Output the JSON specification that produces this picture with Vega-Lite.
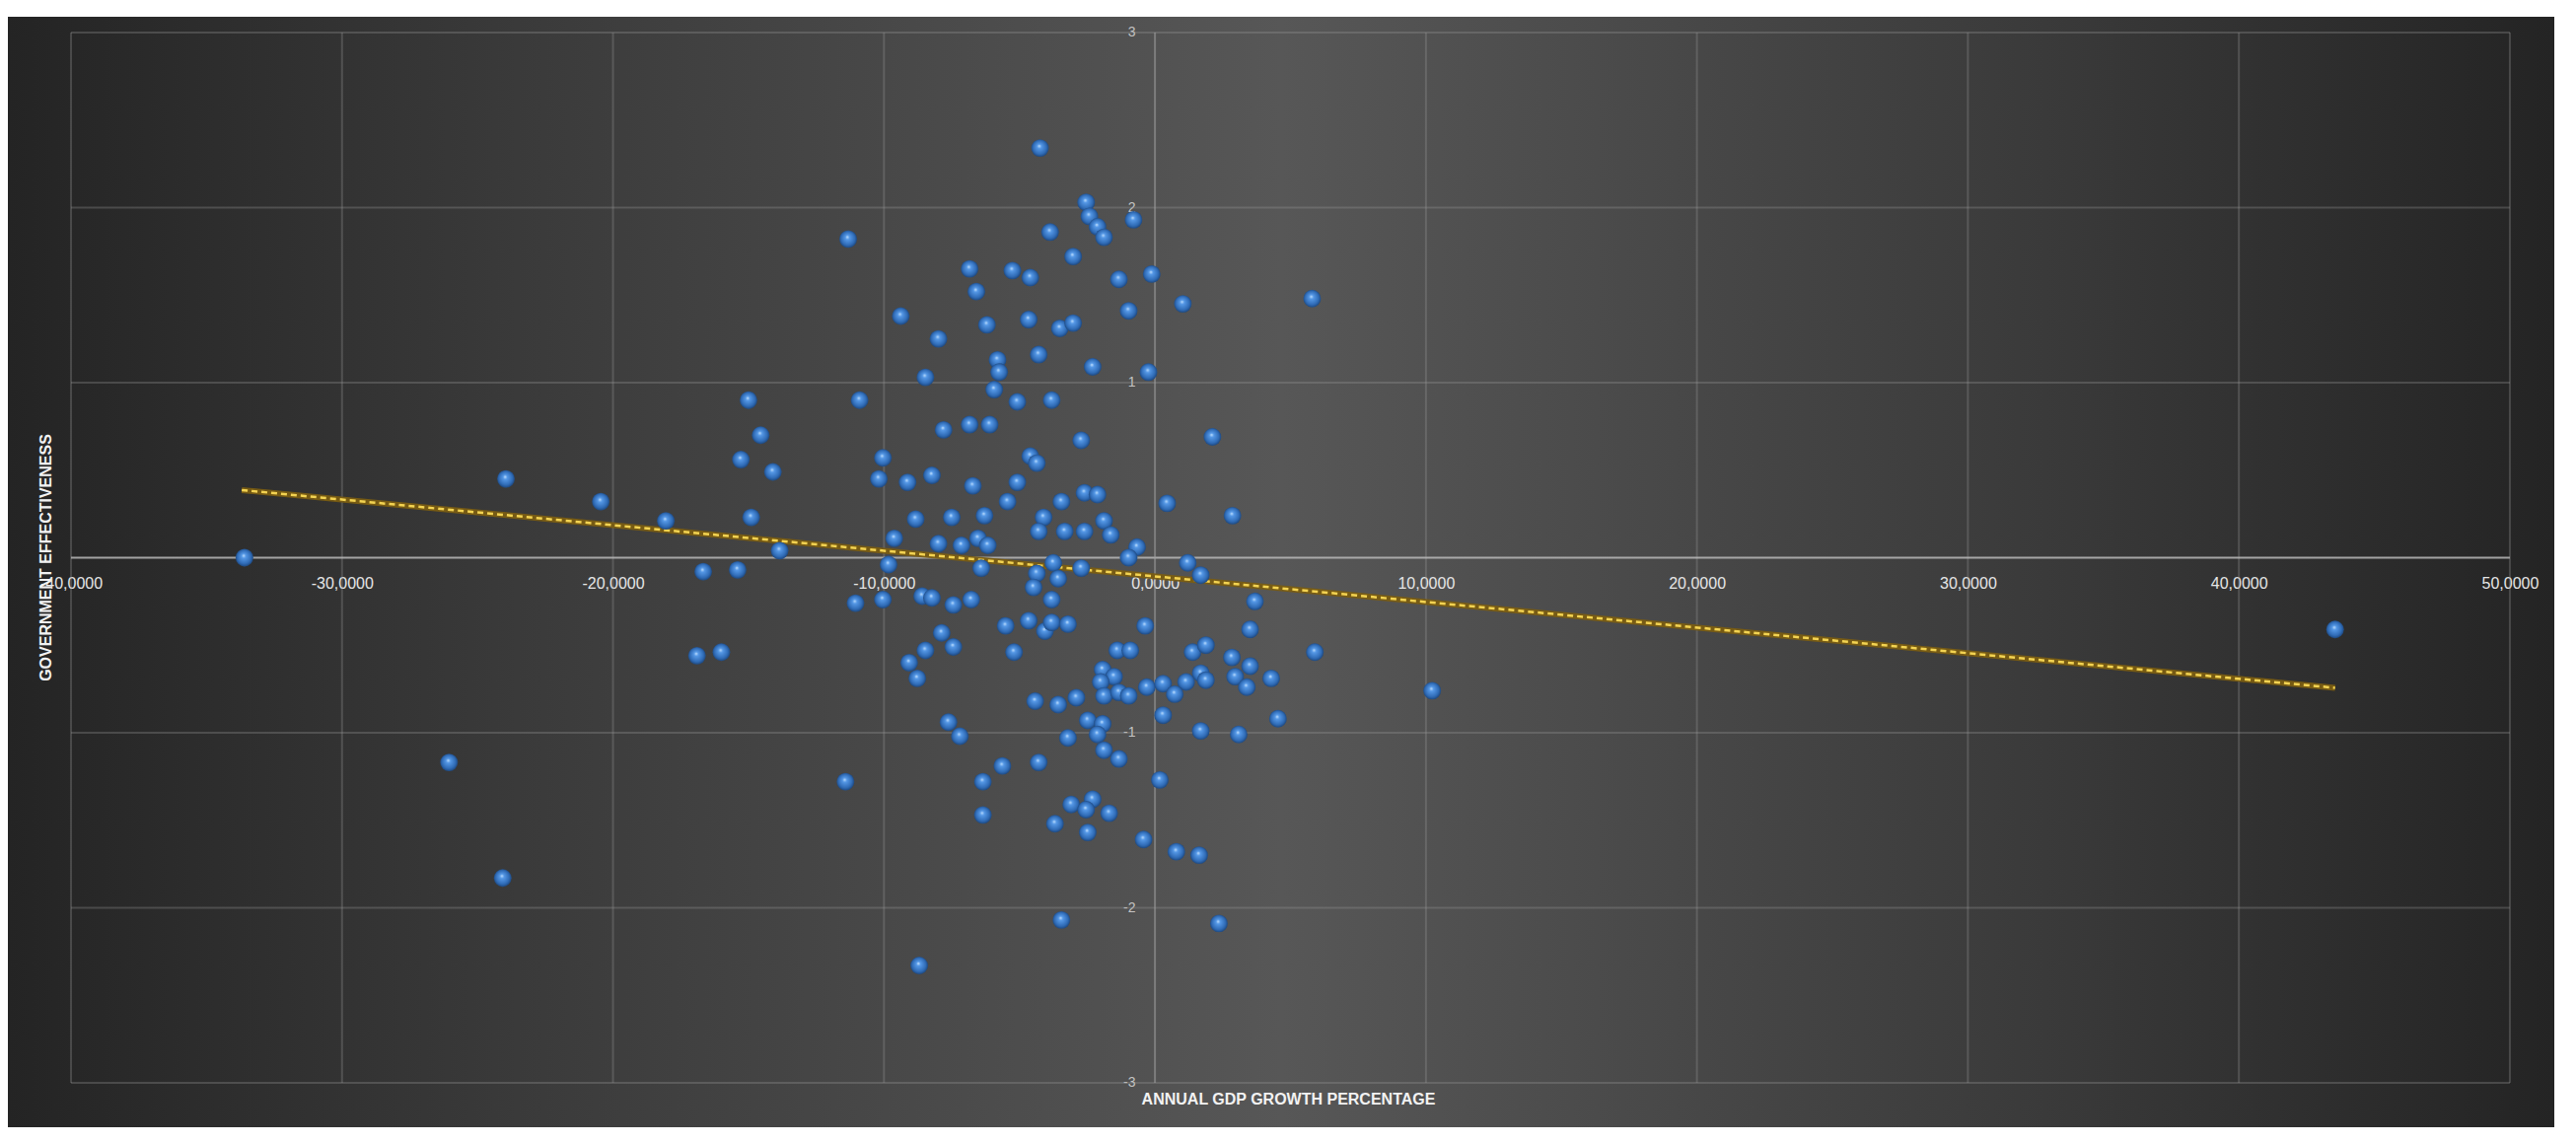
{
  "$schema": "https://vega.github.io/schema/vega-lite/v6.json",
  "autosize": "none",
  "width": 2582,
  "height": 1126,
  "padding": {"left": 8, "top": 17, "right": 22, "bottom": 16},
  "background": "white",
  "view": {
    "stroke": null,
    "fill": {
      "gradient": "linear", "x1": 0, "y1": 0, "x2": 1, "y2": 0,
      "stops": [
        {"offset": 0, "color": "#242424"},
        {"offset": 0.2, "color": "#3a3a3a"},
        {"offset": 0.5, "color": "#575757"},
        {"offset": 0.8, "color": "#3a3a3a"},
        {"offset": 1, "color": "#242424"}
      ]
    }
  },
  "datasets": {
    "pts": [
      {"g": -33.6, "e": 0.0}, {"g": -23.95, "e": 0.45}, {"g": -20.45, "e": 0.32}, {"g": -18.05, "e": 0.21},
      {"g": -26.05, "e": -1.17}, {"g": -24.07, "e": -1.83}, {"g": -16.67, "e": -0.08}, {"g": -16.9, "e": -0.56},
      {"g": -16.0, "e": -0.54}, {"g": -15.4, "e": -0.07}, {"g": -15.28, "e": 0.56}, {"g": -15.0, "e": 0.9},
      {"g": -14.9, "e": 0.23}, {"g": -14.55, "e": 0.7}, {"g": -14.1, "e": 0.49}, {"g": -13.85, "e": 0.04},
      {"g": -11.32, "e": 1.82}, {"g": -10.9, "e": 0.9}, {"g": -11.05, "e": -0.26}, {"g": -11.42, "e": -1.28},
      {"g": -8.7, "e": -2.33}, {"g": 10.23, "e": -0.76}, {"g": 43.55, "e": -0.41}, {"g": 5.8, "e": 1.48},
      {"g": 5.9, "e": -0.54}, {"g": 2.36, "e": -2.09}, {"g": -3.45, "e": -2.07}, {"g": 2.12, "e": 0.69},
      {"g": 2.86, "e": 0.24},
      {"g": -6.84, "e": 1.65}, {"g": -6.59, "e": 1.52}, {"g": -9.38, "e": 1.38}, {"g": -6.2, "e": 1.33},
      {"g": -7.99, "e": 1.25}, {"g": -5.81, "e": 1.13}, {"g": -5.75, "e": 1.06}, {"g": -5.93, "e": 0.96},
      {"g": -8.47, "e": 1.03}, {"g": -7.8, "e": 0.73}, {"g": -6.84, "e": 0.76}, {"g": -6.1, "e": 0.76},
      {"g": -10.04, "e": 0.57}, {"g": -10.19, "e": 0.45}, {"g": -9.13, "e": 0.43}, {"g": -8.23, "e": 0.47},
      {"g": -6.72, "e": 0.41}, {"g": -8.83, "e": 0.22}, {"g": -7.5, "e": 0.23}, {"g": -6.29, "e": 0.24},
      {"g": -9.62, "e": 0.11}, {"g": -7.99, "e": 0.08}, {"g": -7.14, "e": 0.07}, {"g": -6.53, "e": 0.11},
      {"g": -6.17, "e": 0.07}, {"g": -9.83, "e": -0.04}, {"g": -6.41, "e": -0.06},
      {"g": -4.24, "e": 2.34}, {"g": -2.54, "e": 2.03}, {"g": -2.42, "e": 1.95}, {"g": -2.12, "e": 1.89},
      {"g": -1.88, "e": 1.83}, {"g": -0.79, "e": 1.93}, {"g": -3.87, "e": 1.86}, {"g": -3.02, "e": 1.72},
      {"g": -5.26, "e": 1.64}, {"g": -4.6, "e": 1.6}, {"g": -1.33, "e": 1.59}, {"g": -0.12, "e": 1.62},
      {"g": -0.97, "e": 1.41}, {"g": -4.66, "e": 1.36}, {"g": -3.51, "e": 1.31}, {"g": -3.02, "e": 1.34},
      {"g": -4.29, "e": 1.16}, {"g": -2.3, "e": 1.09}, {"g": -0.24, "e": 1.06}, {"g": -5.08, "e": 0.89},
      {"g": -3.81, "e": 0.9}, {"g": -2.72, "e": 0.67}, {"g": -4.6, "e": 0.58}, {"g": -4.36, "e": 0.54},
      {"g": -5.08, "e": 0.43}, {"g": -5.44, "e": 0.32}, {"g": -3.45, "e": 0.32}, {"g": -2.6, "e": 0.37},
      {"g": -2.12, "e": 0.36}, {"g": -4.11, "e": 0.23}, {"g": -4.29, "e": 0.15}, {"g": -3.33, "e": 0.15},
      {"g": -2.6, "e": 0.15}, {"g": -1.88, "e": 0.21}, {"g": -1.63, "e": 0.13}, {"g": -0.66, "e": 0.06},
      {"g": -0.97, "e": 0.0}, {"g": -3.75, "e": -0.03}, {"g": -2.72, "e": -0.06}, {"g": 0.45, "e": 0.31},
      {"g": 1.03, "e": 1.45}, {"g": 1.21, "e": -0.03},
      {"g": -10.04, "e": -0.24}, {"g": -8.59, "e": -0.22}, {"g": -8.23, "e": -0.23}, {"g": -7.44, "e": -0.27},
      {"g": -6.78, "e": -0.24}, {"g": -7.87, "e": -0.43}, {"g": -7.44, "e": -0.51}, {"g": -8.47, "e": -0.53},
      {"g": -9.07, "e": -0.6}, {"g": -8.77, "e": -0.69}, {"g": -7.62, "e": -0.94}, {"g": -7.2, "e": -1.02},
      {"g": -6.35, "e": -1.28}, {"g": -6.35, "e": -1.47}, {"g": -5.63, "e": -1.19},
      {"g": -4.36, "e": -0.09}, {"g": -3.57, "e": -0.12}, {"g": -4.48, "e": -0.17}, {"g": -3.81, "e": -0.24},
      {"g": -5.51, "e": -0.39}, {"g": -4.66, "e": -0.36}, {"g": -4.06, "e": -0.42}, {"g": -3.81, "e": -0.37},
      {"g": -3.21, "e": -0.38}, {"g": -0.36, "e": -0.39}, {"g": -5.2, "e": -0.54}, {"g": -1.39, "e": -0.53},
      {"g": -0.91, "e": -0.53}, {"g": -1.93, "e": -0.64}, {"g": -1.51, "e": -0.68}, {"g": -2.0, "e": -0.71},
      {"g": -1.88, "e": -0.79}, {"g": -1.33, "e": -0.77}, {"g": -0.97, "e": -0.79}, {"g": -0.3, "e": -0.74},
      {"g": -4.42, "e": -0.82}, {"g": -3.57, "e": -0.84}, {"g": -2.9, "e": -0.8}, {"g": -2.48, "e": -0.93},
      {"g": -1.93, "e": -0.95}, {"g": -2.12, "e": -1.01}, {"g": -3.21, "e": -1.03}, {"g": -1.88, "e": -1.1},
      {"g": -1.33, "e": -1.15}, {"g": -4.29, "e": -1.17}, {"g": 0.18, "e": -1.27}, {"g": -3.09, "e": -1.41},
      {"g": -2.3, "e": -1.38}, {"g": -2.54, "e": -1.44}, {"g": -1.69, "e": -1.46}, {"g": -3.69, "e": -1.52},
      {"g": -2.48, "e": -1.57}, {"g": -0.42, "e": -1.61},
      {"g": 1.69, "e": -0.1}, {"g": 3.69, "e": -0.25}, {"g": 3.51, "e": -0.41}, {"g": 1.39, "e": -0.54},
      {"g": 1.88, "e": -0.5}, {"g": 2.84, "e": -0.57}, {"g": 3.51, "e": -0.62}, {"g": 1.69, "e": -0.66},
      {"g": 1.88, "e": -0.7}, {"g": 2.96, "e": -0.68}, {"g": 3.39, "e": -0.74}, {"g": 4.29, "e": -0.69},
      {"g": 0.3, "e": -0.72}, {"g": 1.15, "e": -0.71}, {"g": 0.73, "e": -0.78}, {"g": 0.3, "e": -0.9},
      {"g": 4.54, "e": -0.92}, {"g": 1.69, "e": -0.99}, {"g": 3.09, "e": -1.01}, {"g": 0.79, "e": -1.68},
      {"g": 1.63, "e": -1.7}
    ],
    "trend": [{"g": -33.7, "e": 0.386}, {"g": 43.55, "e": -0.744}],
    "vgrid": [{"g": -40, "e": 0}, {"g": -30, "e": 0}, {"g": -20, "e": 0}, {"g": -10, "e": 0}, {"g": 10, "e": 0}, {"g": 20, "e": 0}, {"g": 30, "e": 0}, {"g": 40, "e": 0}, {"g": 50, "e": 0}],
    "hgrid": [{"g": 0, "e": -3}, {"g": 0, "e": -2}, {"g": 0, "e": -1}, {"g": 0, "e": 1}, {"g": 0, "e": 2}, {"g": 0, "e": 3}],
    "one": [{"g": 0, "e": 0}]
  },
  "encoding": {
    "x": {
      "field": "g", "type": "quantitative", "title": "ANNUAL GDP GROWTH PERCENTAGE",
      "scale": {"domain": [-42.33, 51.64], "nice": false, "zero": false},
      "axis": {
        "values": [-40, -30, -20, -10, 0, 10, 20, 30, 40, 50],
        "grid": false, "domain": false, "ticks": false, "tickSize": 0,
        "offset": -578, "labelPadding": 18, "labelFlush": false, "labelOverlap": false,
        "labelExpr": "(datum.value < 0 ? '-' : '') + abs(datum.value) + ',0000'",
        "labelFont": "Liberation Sans", "labelFontSize": 16, "labelColor": "#e6e6e6",
        "titleFont": "Liberation Sans", "titleFontSize": 16, "titleFontWeight": "bold",
        "titleColor": "#f2f2f2", "titleY": 549, "titleBaseline": "middle", "titleX": 1298, "titleAnchor": "middle"
      }
    },
    "y": {
      "field": "e", "type": "quantitative", "title": "GOVERNMENT EFFECTIVENESS",
      "scale": {"domain": [-3.254, 3.09], "nice": false, "zero": false},
      "axis": {
        "values": [-3, -2, -1, 1, 2, 3],
        "grid": false, "domain": false, "ticks": false, "tickSize": 0,
        "offset": -1163, "labelPadding": 20, "labelOverlap": false, "labelFlush": false,
        "labelExpr": "(datum.value < 0 ? '-' : '') + abs(datum.value)",
        "labelFont": "Liberation Sans", "labelFontSize": 14, "labelColor": "#c4c4c4",
        "titleFont": "Liberation Sans", "titleFontSize": 16, "titleFontWeight": "bold",
        "titleColor": "#f2f2f2", "titleX": -1125, "titleY": 548, "titleBaseline": "middle", "titleAngle": 270
      }
    }
  },
  "layer": [
    {
      "data": {"name": "vgrid"},
      "mark": {"type": "rule", "stroke": "#9a9a9a", "strokeOpacity": 0.3, "strokeWidth": 2},
      "encoding": {"y": {"datum": 3}, "y2": {"datum": -3}}
    },
    {
      "data": {"name": "hgrid"},
      "mark": {"type": "rule", "stroke": "#9a9a9a", "strokeOpacity": 0.3, "strokeWidth": 2},
      "encoding": {"x": {"datum": -40}, "x2": {"datum": 50}}
    },
    {
      "data": {"name": "one"},
      "mark": {"type": "rule", "stroke": "#b8b8b8", "strokeOpacity": 0.85, "strokeWidth": 2},
      "encoding": {"x": {"datum": -40}, "x2": {"datum": 50}}
    },
    {
      "data": {"name": "one"},
      "mark": {"type": "rule", "stroke": "#a0a0a0", "strokeOpacity": 0.55, "strokeWidth": 2},
      "encoding": {"y": {"datum": 3}, "y2": {"datum": -3}}
    },
    {
      "data": {"name": "trend"},
      "mark": {"type": "line", "color": "#7a5d12", "strokeWidth": 6, "opacity": 0.95}
    },
    {
      "data": {"name": "trend"},
      "mark": {"type": "line", "color": "#f3d352", "strokeWidth": 2.5, "strokeDash": [6, 4]}
    },
    {
      "data": {"name": "pts"},
      "mark": {
        "type": "point", "filled": true, "size": 320, "opacity": 1, "strokeWidth": 0,
        "fill": {
          "gradient": "radial", "x1": 0.45, "y1": 0.38, "r1": 0, "x2": 0.5, "y2": 0.5, "r2": 0.55,
          "stops": [
            {"offset": 0, "color": "#c4e2ff"},
            {"offset": 0.22, "color": "#5598e6"},
            {"offset": 0.7, "color": "#2f6bb6"},
            {"offset": 1, "color": "#183c6c"}
          ]
        }
      }
    }
  ]
}
